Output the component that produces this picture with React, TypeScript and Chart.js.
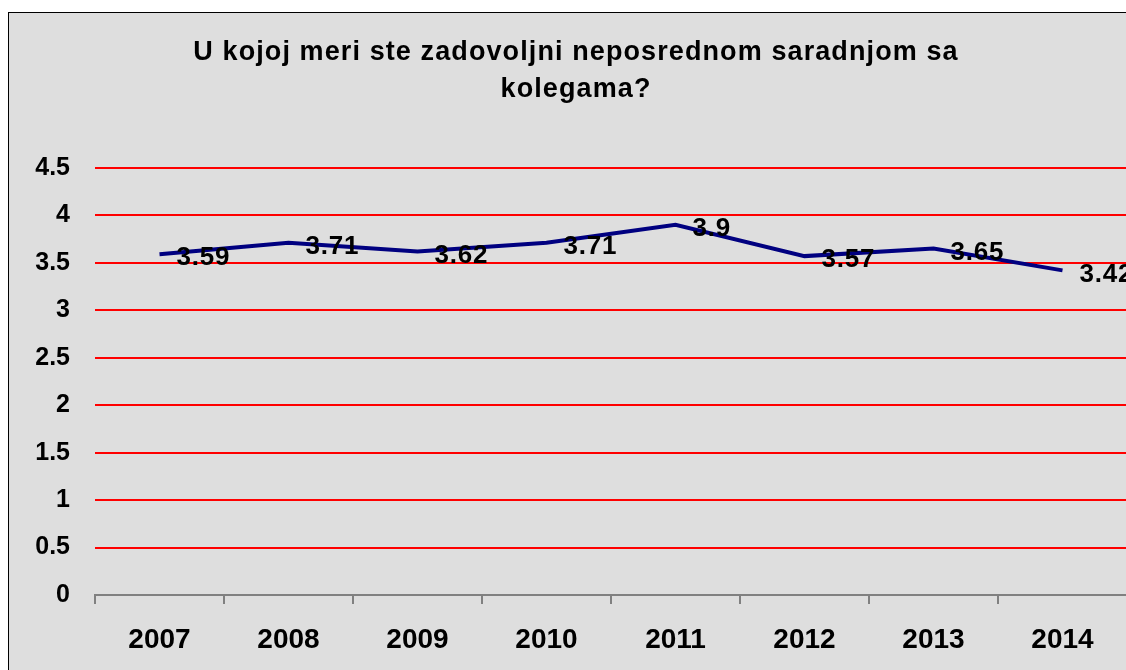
import React, { useEffect, useRef } from "react";
import { Chart, registerables } from "chart.js";

Chart.register(...registerables);

const years = ["2007", "2008", "2009", "2010", "2011", "2012", "2013", "2014"];
const scores = [3.59, 3.71, 3.62, 3.71, 3.9, 3.57, 3.65, 3.42];
const titleLines = ["U kojoj meri ste zadovoljni neposrednom saradnjom sa", "kolegama?"];

const FONT = "'Liberation Sans', Arial, sans-serif";

const bgPlugin = {
  id: "bgPlugin",
  beforeDraw(chart: any) {
    const { ctx, width, height } = chart;
    ctx.save();
    ctx.fillStyle = "#dedede";
    ctx.fillRect(0, 0, width, height);
    ctx.restore();
  },
};

const titlePlugin = {
  id: "titlePlugin",
  afterDraw(chart: any) {
    const { ctx, width } = chart;
    ctx.save();
    ctx.font = `bold 27px ${FONT}`;
    ctx.fillStyle = "#000";
    ctx.textAlign = "center";
    ctx.textBaseline = "middle";
    try {
      (ctx as any).letterSpacing = "1.1px";
    } catch (e) {}
    titleLines.forEach((t: string, i: number) => {
      ctx.fillText(t, width / 2 + 1, 40 + i * 37);
    });
    ctx.restore();
  },
};

const labelPlugin = {
  id: "labelPlugin",
  afterDatasetsDraw(chart: any) {
    const { ctx } = chart;
    const meta = chart.getDatasetMeta(0);
    const data = chart.data.datasets[0].data;
    ctx.save();
    ctx.font = `bold 26px ${FONT}`;
    ctx.fillStyle = "#000";
    ctx.textAlign = "left";
    ctx.textBaseline = "middle";
    try {
      (ctx as any).letterSpacing = "0.8px";
    } catch (e) {}
    meta.data.forEach((pt: any, i: number) => {
      ctx.fillText(String(data[i]), pt.x + 17, pt.y + 4);
    });
    ctx.restore();
  },
};

export default function App() {
  const ref = useRef<HTMLCanvasElement>(null);
  useEffect(() => {
    if (!ref.current) return;
    const chart = new Chart(ref.current, {
      type: "line",
      data: {
        labels: years,
        datasets: [
          {
            data: scores,
            borderColor: "#000080",
            borderWidth: 4,
            pointRadius: 0,
            tension: 0,
            fill: false,
          },
        ],
      },
      options: {
        responsive: false,
        animation: false,
        layout: { padding: { top: 20, right: 14, left: 0, bottom: 0 } },
        plugins: {
          legend: { display: false },
          tooltip: { enabled: false },
          title: {
            display: true,
            text: titleLines,
            color: "rgba(0,0,0,0)",
            font: { family: FONT, size: 26, weight: "bold", lineHeight: 1.42 },
            padding: { top: 0, bottom: 61 },
          },
        },
        scales: {
          x: {
            offset: true,
            grid: {
              offset: true,
              drawOnChartArea: false,
              drawTicks: true,
              tickLength: 9,
              color: "#808080",
              lineWidth: 2,
            },
            border: { display: true, color: "#808080", width: 2 },
            ticks: {
              color: "#000",
              font: { family: FONT, size: 28, weight: "bold" },
              padding: 19,
              maxRotation: 0,
            },
            afterFit: (scale: any) => {
              scale.height = 98;
            },
          },
          y: {
            min: 0,
            max: 4.5,
            ticks: {
              stepSize: 0.5,
              color: "#000",
              font: { family: FONT, size: 25, weight: "bold" },
              padding: 25,
              callback: (v: any) => String(v),
            },
            grid: {
              drawTicks: false,
              lineWidth: 2,
              color: (c: any) => (c.tick && c.tick.value === 0 ? "rgba(0,0,0,0)" : "#ff0000"),
            },
            border: { display: false },
            afterFit: (scale: any) => {
              scale.width = 86;
            },
          },
        },
      },
      plugins: [bgPlugin, labelPlugin, titlePlugin],
    });
    return () => chart.destroy();
  }, []);

  return (
    <div
      style={{
        position: "fixed",
        left: 0,
        top: 0,
        width: 1126,
        height: 670,
        overflow: "hidden",
        background: "#fff",
      }}
    >
      <div
        style={{
          position: "absolute",
          left: 8,
          top: 12,
          border: "1px solid #000",
          width: 1132,
          height: 680,
        }}
      >
        <canvas ref={ref} width={1132} height={680} style={{ display: "block" }} />
      </div>
    </div>
  );
}
